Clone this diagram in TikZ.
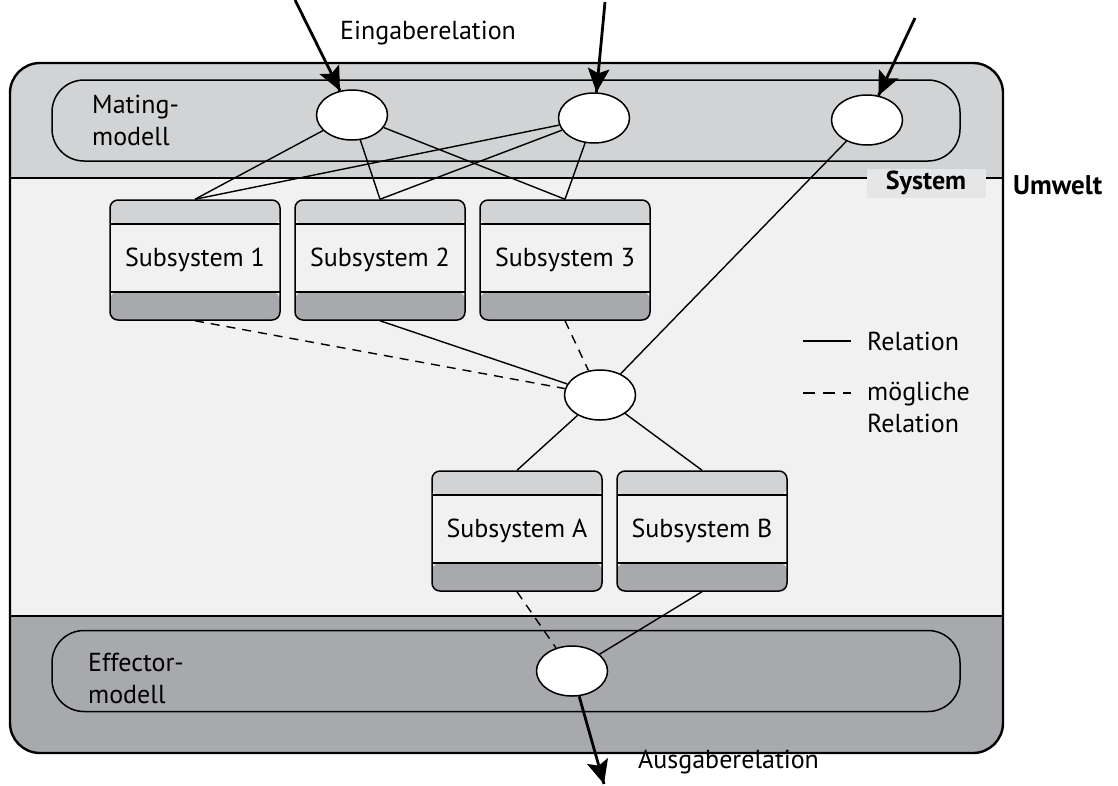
\documentclass[tikz,border=0pt]{standalone}
\usepackage{fontspec}
\setmainfont{PT Sans}
\usetikzlibrary{shapes.geometric,decorations.markings}
\definecolor{topfill}{HTML}{D1D3D4}
\definecolor{midfill}{HTML}{F1F1F2}
\definecolor{botfill}{HTML}{A7A9AC}
\definecolor{lblfill}{HTML}{E5E6E7}
\tikzset{
  rel/.style={line width=1.4pt},
  prel/.style={line width=1.4pt, dash pattern=on 9pt off 7pt},
  inarrow/.style={line width=2.8pt, postaction={decorate},
    decoration={markings, mark=at position 1 with {\fill (0pt,0pt) -- (-24pt,11pt) -- (-19pt,0pt) -- (-24pt,-11pt) -- cycle;}}},
  relnode/.style={ellipse, draw, line width=1.5pt, fill=white, minimum width=71pt, minimum height=50pt, inner sep=0pt},
  band/.style={draw, line width=1.5pt, rounded corners=32pt, minimum width=908pt, minimum height=81pt},
  lbl/.style={font=\fontsize{26}{32}\selectfont, inner sep=0pt},
  subsys/.style={draw, line width=1.5pt, rounded corners=8pt, fill=midfill,
    minimum width=170pt, minimum height=120pt, inner sep=0pt,
    font=\fontsize{26}{30}\selectfont,
    path picture={
      \fill[topfill] (path picture bounding box.north west) rectangle ([yshift=-24pt]path picture bounding box.north east);
      \fill[botfill] (path picture bounding box.south west) rectangle ([yshift=28pt]path picture bounding box.south east);
      \draw[line width=1.5pt] ([yshift=-24pt]path picture bounding box.north west) -- ([yshift=-24pt]path picture bounding box.north east);
      \draw[line width=1.5pt] ([yshift=28pt]path picture bounding box.south west) -- ([yshift=28pt]path picture bounding box.south east);
    }},
}
\begin{document}
\begin{tikzpicture}[x=1pt,y=-1pt]
\useasboundingbox (0,0) rectangle (1118,785);
% system background bands
\begin{scope}
  \clip[rounded corners=30pt] (10,63) rectangle (1003,753);
  \fill[topfill] (0,50) rectangle (1010,178);
  \fill[midfill] (0,178) rectangle (1010,616);
  \fill[botfill] (0,616) rectangle (1010,760);
\end{scope}
\draw[line width=1.5pt] (10,178) -- (1003,178);
\draw[line width=1.5pt] (10,616) -- (1003,616);
\draw[line width=2.4pt, rounded corners=30pt] (10,63) rectangle (1003,753);

% System / Umwelt labels
\node[fill=lblfill, minimum width=119pt, minimum height=29pt, inner sep=0pt,
      font=\bfseries\fontsize{26}{30}\selectfont] (sys) at (926,183) {System};
\node[lbl, font=\bfseries\fontsize{27}{30}\selectfont, anchor=west] (umw) at (1013,185) {Umwelt};

% Mating and effector bands
\node[band, fill=topfill] (mating) at (506,120.5) {};
\node[band, fill=botfill] (effector) at (506,671) {};
\node[lbl, anchor=west, align=left] (matingtxt) at (92,120) {Mating-\\modell};
\node[lbl, anchor=west, align=left] (effectortxt) at (88,678) {Effector-\\modell};

% relation ellipses
\node[relnode] (e1) at (352,115) {};
\node[relnode] (e2) at (594,118) {};
\node[relnode] (e3) at (867,120) {};
\node[relnode] (m) at (600,395) {};
\node[relnode] (b) at (572,671) {};

% subsystems
\node[subsys] (s1) at (195,260) {Subsystem 1};
\node[subsys] (s2) at (380,260) {Subsystem 2};
\node[subsys] (s3) at (565,260) {Subsystem 3};
\node[subsys] (sa) at (517,531) {Subsystem A};
\node[subsys] (sb) at (702,531) {Subsystem B};

% relations
\draw[rel] (e1) -- (s1.north);
\draw[rel] (e2) -- (s1.north);
\draw[rel] (e1) -- (s2.north);
\draw[rel] (e2) -- (s2.north);
\draw[rel] (e1) -- (s3.north);
\draw[rel] (e2) -- (s3.north);
\draw[rel] (e3) -- (m);
\draw[prel] (s1.south) -- (m);
\draw[rel] (s2.south) -- (m);
\draw[prel] (s3.south) -- (m);
\draw[rel] (m) -- (sa.north);
\draw[rel] (m) -- (sb.north);
\draw[prel] (sa.south) -- (b);
\draw[rel] (sb.south) -- (b);

% input / output arrows
\coordinate (in1) at (295,0);
\coordinate (in2) at (605,2);
\coordinate (in3) at (915,18);
\coordinate (out) at (604,784);
\draw[inarrow] (in1) -- (e1);
\draw[inarrow] (in2) -- (e2);
\draw[inarrow] (in3) -- (e3);
\draw[inarrow] (b) -- (out);
\node[lbl, anchor=west] (ein) at (340,33) {Eingaberelation};
\node[lbl, anchor=west] (aus) at (638,762) {Ausgaberelation};

% legend
\coordinate (l1a) at (803,341);
\coordinate (l1b) at (851,341);
\coordinate (l2a) at (803,393);
\coordinate (l2b) at (851,393);
\draw[line width=2pt] (l1a) -- (l1b);
\draw[line width=2pt, dash pattern=on 12pt off 8pt] (l2a) -- (l2b);
\node[lbl, anchor=west] (leg1) at (867,341) {Relation};
\node[lbl, anchor=west, align=left] (leg2) at (867,407) {mögliche\\Relation};
\end{tikzpicture}
\end{document}
